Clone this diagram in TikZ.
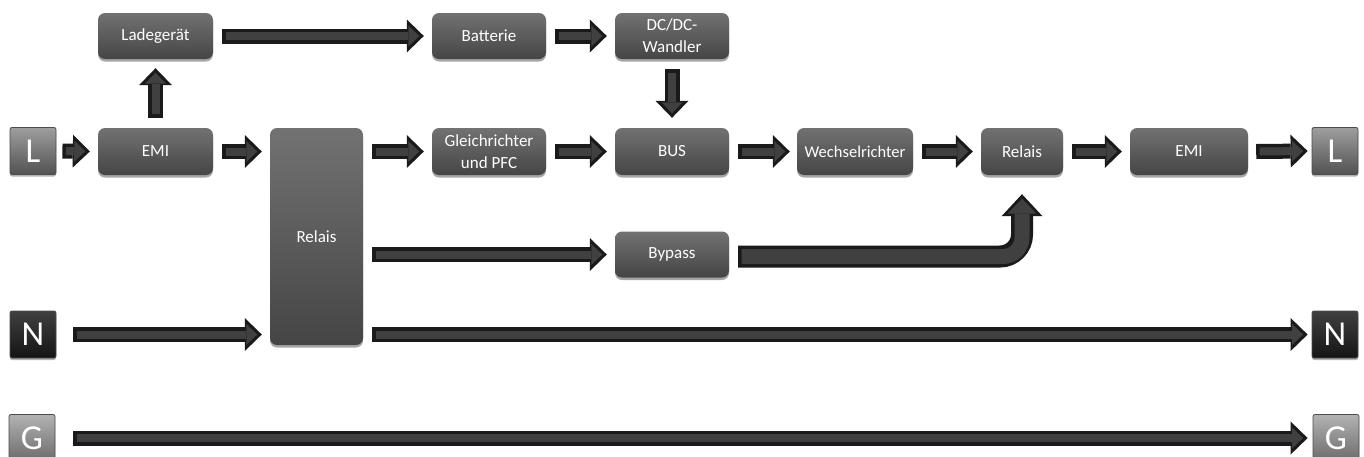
\documentclass[tikz,border=0pt]{standalone}
\usepackage{fontspec}
\setmainfont{Carlito}
\usetikzlibrary{arrows.meta,calc,shadows}
\definecolor{arrout}{HTML}{1A1A1A}
\definecolor{arrin}{HTML}{404040}
\definecolor{boxtop}{HTML}{727272}
\definecolor{boxbot}{HTML}{454545}
\newcommand\blkarr[2]{%
  \draw[arrouter] #1 -- #2;
  \draw[arrinner] #1 -- #2;}
\tikzset{
  blk/.style={rounded corners=7pt, top color=boxtop, bottom color=boxbot,
    text=white, font=\fontsize{17}{22}\selectfont, align=center,
    inner sep=0pt, minimum height=46pt,
    drop shadow={shadow xshift=0pt, shadow yshift=-2.5pt, opacity=0.35, fill=black}},
  letter/.style={rounded corners=2pt, minimum width=46pt, minimum height=47pt,
    text=white, font=\fontsize{35}{35}\selectfont, inner sep=0pt,
    draw=black!70, line width=0.8pt,
    drop shadow={shadow xshift=0pt, shadow yshift=-2pt, opacity=0.3, fill=black}},
  lgrey/.style={letter, top color=black!38, bottom color=black!68},
  ldark/.style={letter, top color=black!75, bottom color=black!92},
  llight/.style={letter, top color=black!30, bottom color=black!58},
  arrouter/.style={draw=arrout, line width=15pt,
    -{Triangle[width=33pt,length=17pt,line width=0pt]}},
  arrinner/.style={draw=arrin, line width=8pt, shorten >=4.5pt, shorten <=3.5pt,
    -{Triangle[width=21pt,length=11pt,line width=0pt]}},
  bigouter/.style={draw=arrout, line width=22pt, rounded corners=22pt,
    -{Triangle[width=41pt,length=22pt,line width=0pt]}},
  biginner/.style={draw=arrin, line width=15pt, rounded corners=19pt,
    shorten >=4.5pt, shorten <=3.5pt,
    -{Triangle[width=29pt,length=15pt,line width=0pt]}},
}
\begin{document}
\begin{tikzpicture}[x=1pt,y=-1pt]
\useasboundingbox (0,0) rectangle (1364,456);
\fill[white] (0,0) rectangle (1364,456);
\clip (0,0) rectangle (1364,456);

% letter boxes
\node[lgrey]  (Lin)  at (33,151)    {L};
\node[lgrey]  (Lout) at (1335,151)  {L};
\node[ldark]  (Nin)  at (33,334.5)  {N};
\node[ldark]  (Nout) at (1335,334.5){N};
\node[llight] (Gin)  at (32,438)    {G};
\node[llight] (Gout) at (1336,438)  {G};

% blocks
\node[blk, minimum width=115pt] (lade)   at (155.5,36)    {Ladegerät};
\node[blk, minimum width=114pt] (batt)   at (489,36)      {Batterie};
\node[blk, minimum width=114pt] (dcdc)   at (672,36)      {DC/DC-\\Wandler};
\node[blk, minimum width=115pt, minimum height=47pt] (emiA) at (155.5,151.5) {EMI};
\node[blk, minimum width=93pt, minimum height=217pt, text depth=-14pt] (relA) at (316.5,236.5) {Relais};
\node[blk, minimum width=114pt, minimum height=47pt] (gleich) at (489,151.5) {Gleichrichter\\und PFC};
\node[blk, minimum width=114pt, minimum height=47pt] (bus)    at (672,151.5) {BUS};
\node[blk, minimum width=116pt, minimum height=47pt, font=\fontsize{16.5}{22}\selectfont] (wechsel) at (855,151.5) {Wechselrichter};
\node[blk, minimum width=82pt, minimum height=47pt]  (relB)   at (1022,151.5) {Relais};
\node[blk, minimum width=118pt, minimum height=47pt] (emiB)   at (1189,151.5) {EMI};
\node[blk, minimum width=114pt] (bypass) at (672,254.5) {Bypass};

% main row arrows
\blkarr{($(Lin.east)+(6,0)$)}{($(emiA.west)+(-8,0)$)}
\blkarr{($(emiA.east)+(9,0)$)}{($(relA.west|-emiA)+(-8,0)$)}
\blkarr{($(relA.east|-gleich)+(9,0)$)}{($(gleich.west)+(-8,0)$)}
\blkarr{($(gleich.east)+(9,0)$)}{($(bus.west)+(-8,0)$)}
\blkarr{($(bus.east)+(9,0)$)}{($(wechsel.west)+(-7,0)$)}
\blkarr{($(wechsel.east)+(9,0)$)}{($(relB.west)+(-8,0)$)}
\blkarr{($(relB.east)+(9,0)$)}{($(emiB.west)+(-8,0)$)}
\blkarr{($(emiB.east)+(8,0)$)}{($(Lout.west)+(-4,0)$)}

% top row
\blkarr{($(emiA.north)+(0,-10)$)}{($(lade.south)+(0,9)$)}
\blkarr{($(lade.east)+(9,0)$)}{($(batt.west)+(-8,0)$)}
\blkarr{($(batt.east)+(9,0)$)}{($(dcdc.west)+(-8,0)$)}
\blkarr{($(dcdc.south)+(0,10)$)}{($(bus.north)+(0,-10)$)}

% bypass
\blkarr{($(relA.east|-bypass)+(9,0)$)}{($(bypass.west)+(-8,0)$)}
\draw[bigouter] ($(bypass.east)+(9,2)$) -| ($(relB.south)+(0,19)$);
\draw[biginner] ($(bypass.east)+(9,2)$) -| ($(relB.south)+(0,19)$);

% N and G lines
\blkarr{($(Nin.east)+(17,0)$)}{($(relA.west|-Nin)+(-8,0)$)}
\blkarr{($(relA.east|-Nout)+(9,0)$)}{($(Nout.west)+(-4,0)$)}
\blkarr{($(Gin.east)+(18,0)$)}{($(Gout.west)+(-5,0)$)}
\end{tikzpicture}
\end{document}
